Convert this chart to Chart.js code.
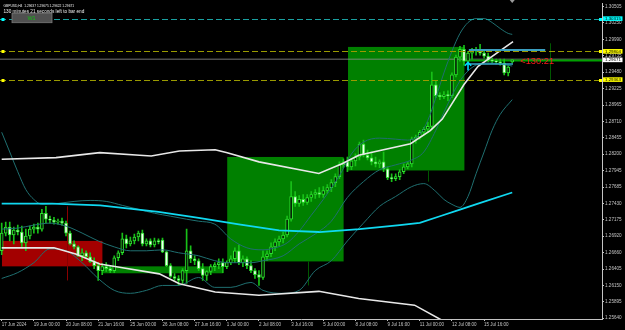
<!DOCTYPE html>
<html><head><meta charset="utf-8">
<script src="https://cdn.jsdelivr.net/npm/chart.js@4.4.1/dist/chart.umd.min.js"></script>
<style>html,body{margin:0;padding:0;background:#000;}#wrap{width:625px;height:330px;}</style>
</head><body><div id="wrap"><canvas id="c" width="625" height="330"></canvas></div>
<script>
// ---------- DATA ----------
const symbolText = 'GBPUSD,H4  1.29637 1.29675 1.29622 1.29671';
const timerText = '130 minutes 21 seconds left to bar end';
const tickBars = [0,8,16,24,32,40,48,56,64,72,80,88,96,104,112,120];
const tickLabels = ['17 Jun 2024','19 Jun 00:00','20 Jun 08:00','21 Jun 16:00','25 Jun 00:00','26 Jun 08:00','27 Jun 16:00','1 Jul 00:00','2 Jul 08:00','3 Jul 16:00','5 Jul 00:00','8 Jul 08:00','9 Jul 16:00','11 Jul 00:00','12 Jul 08:00','15 Jul 16:00'];
const priceTicks = [1.30505,1.30250,1.29990,1.29735,1.29480,1.29225,1.28965,1.28710,1.28455,1.28200,1.27945,1.27685,1.27430,1.27175,1.26920,1.26660,1.26405,1.26150,1.25895,1.25640];

const candleOpen = [
1.26690,1.26967,1.27059,1.26936,1.27013,1.26983,1.26813,1.26921,1.27029,1.27059,
1.27029,1.27276,1.27184,1.27168,1.27137,1.27152,1.27121,1.26967,1.26798,1.26751,
1.26613,1.26659,1.26597,1.26520,1.26458,1.26381,1.26443,1.26412,1.26381,1.26582,
1.26659,1.26875,1.26798,1.26844,1.26906,1.26967,1.26798,1.26844,1.26782,1.26844,
1.26859,1.26674,1.26458,1.26289,1.26258,1.26227,1.26381,1.26690,1.26566,1.26535,
1.26412,1.26304,1.26366,1.26443,1.26474,1.26504,1.26443,1.26504,1.26566,1.26690,
1.26504,1.26566,1.26458,1.26381,1.26319,1.26273,1.26597,1.26644,1.26751,1.26829,
1.26875,1.26936,1.27184,1.27538,1.27430,1.27492,1.27445,1.27522,1.27569,1.27600,
1.27569,1.27631,1.27677,1.27754,1.27847,1.28032,1.28078,1.28001,1.28094,1.28155,
1.28356,1.28186,1.28140,1.28078,1.28047,1.28078,1.27970,1.27831,1.27816,1.27847,
1.27924,1.28001,1.28047,1.28433,1.28464,1.28541,1.28587,1.28633,1.29282,1.29112,
1.29097,1.29127,1.29112,1.29436,1.29714,1.29837,1.29652,1.29776,1.29806,1.29837,
1.29776,1.29729,1.29668,1.29652,1.29637,1.29621,1.29467,1.29637];
const candleHigh = [
1.27121,1.27137,1.27137,1.27059,1.27090,1.27075,1.27029,1.27075,1.27106,1.27121,
1.27338,1.27384,1.27230,1.27214,1.27184,1.27199,1.27152,1.26998,1.26844,1.26767,
1.26721,1.26690,1.26659,1.26582,1.26504,1.26489,1.26504,1.26458,1.26613,1.26690,
1.26967,1.26936,1.26906,1.26952,1.26998,1.27013,1.26875,1.26875,1.26890,1.26875,
1.26890,1.26690,1.26489,1.26335,1.26304,1.26412,1.27029,1.26767,1.26613,1.26566,
1.26489,1.26381,1.26474,1.26504,1.26566,1.26566,1.26535,1.26613,1.26736,1.26782,
1.26613,1.26597,1.26535,1.26412,1.26381,1.26690,1.26690,1.26813,1.26875,1.26921,
1.26983,1.27230,1.27770,1.27615,1.27553,1.27569,1.27569,1.27615,1.27646,1.27677,
1.27692,1.27723,1.27800,1.27893,1.28078,1.28125,1.28155,1.28125,1.28202,1.28387,
1.28418,1.28264,1.28233,1.28155,1.28109,1.28233,1.28001,1.27893,1.27893,1.27955,
1.28047,1.28078,1.28464,1.28495,1.28572,1.28618,1.28695,1.29482,1.29343,1.29158,
1.29174,1.29189,1.29467,1.29745,1.29884,1.29899,1.29806,1.29853,1.29868,1.29914,
1.29822,1.29776,1.29698,1.29683,1.29683,1.29683,1.29590,1.29675];
const candleLow = [
1.26628,1.26921,1.26844,1.26798,1.26936,1.26736,1.26690,1.26875,1.26967,1.26967,
1.26998,1.27121,1.27121,1.27106,1.27106,1.27090,1.26921,1.26782,1.26721,1.26597,
1.26535,1.26566,1.26504,1.26412,1.26227,1.26319,1.26366,1.26350,1.26350,1.26535,
1.26628,1.26736,1.26767,1.26798,1.26844,1.26767,1.26767,1.26751,1.26751,1.26798,
1.26659,1.26443,1.26273,1.26227,1.26150,1.26181,1.26181,1.26504,1.26474,1.26381,
1.26227,1.26227,1.26319,1.26381,1.26412,1.26350,1.26412,1.26474,1.26504,1.26474,
1.26443,1.26412,1.26350,1.26258,1.26150,1.26242,1.26535,1.26597,1.26690,1.26767,
1.26813,1.26906,1.27152,1.27384,1.27384,1.27399,1.27415,1.27461,1.27507,1.27522,
1.27522,1.27584,1.27615,1.27693,1.27816,1.27986,1.27924,1.27955,1.28016,1.28109,
1.28155,1.28109,1.28032,1.28001,1.27986,1.27924,1.27800,1.27770,1.27785,1.27800,
1.27893,1.27970,1.28001,1.28371,1.28433,1.28495,1.28541,1.28587,1.29081,1.29050,
1.29066,1.29035,1.29081,1.29405,1.29652,1.29590,1.29621,1.29683,1.29745,1.29745,
1.29698,1.29637,1.29621,1.29606,1.29590,1.29436,1.29421,1.29622];
const candleClose = [
1.26967,1.27060,1.26936,1.27013,1.26983,1.26813,1.26921,1.27029,1.27059,1.27029,
1.27276,1.27184,1.27168,1.27137,1.27152,1.27121,1.26967,1.26798,1.26751,1.26613,
1.26659,1.26597,1.26520,1.26458,1.26381,1.26443,1.26412,1.26381,1.26582,1.26659,
1.26875,1.26798,1.26844,1.26906,1.26967,1.26798,1.26844,1.26782,1.26844,1.26829,
1.26674,1.26458,1.26289,1.26258,1.26227,1.26381,1.26690,1.26566,1.26535,1.26412,
1.26304,1.26366,1.26443,1.26474,1.26504,1.26443,1.26504,1.26566,1.26690,1.26504,
1.26566,1.26458,1.26381,1.26319,1.26273,1.26597,1.26644,1.26751,1.26829,1.26875,
1.26936,1.27184,1.27538,1.27430,1.27492,1.27445,1.27522,1.27569,1.27600,1.27569,
1.27631,1.27677,1.27754,1.27847,1.28032,1.28078,1.28001,1.28094,1.28155,1.28356,
1.28186,1.28140,1.28078,1.28047,1.28078,1.27970,1.27831,1.27816,1.27847,1.27924,
1.28001,1.28047,1.28433,1.28464,1.28541,1.28587,1.28633,1.29282,1.29112,1.29097,
1.29127,1.29112,1.29436,1.29714,1.29837,1.29652,1.29776,1.29806,1.29837,1.29776,
1.29729,1.29668,1.29652,1.29637,1.29621,1.29467,1.29560,1.29671];

// Bollinger bands (bar index, price)
const bbUpperBar = [0,2,4,6,8,10,14,18,22,26,30,34,38,42,46,49,53,57,61,65,68,71,74,77,80,84,87,90,94,98,101,104,106,108,110,112,114,116,118,120,122,124,126,127];
const bbUpperVal = [1.28541,1.28233,1.27924,1.27646,1.27492,1.27415,1.27430,1.27461,1.27476,1.27461,1.27399,1.27338,1.27276,1.27230,1.27183,1.27152,1.27106,1.26875,1.26736,1.26705,1.26736,1.26813,1.26998,1.27245,1.27492,1.27862,1.28202,1.28387,1.28449,1.28433,1.28418,1.28510,1.28726,1.29081,1.29467,1.29806,1.30084,1.30254,1.30316,1.30316,1.30254,1.30161,1.30084,1.30069];
const bbMidBar = [0,4,8,12,16,20,24,28,32,36,40,44,49,53,57,62,65,70,74,78,82,86,90,94,98,102,105,108,110,112,114,116,118,120,122,124,127];
const bbMidVal = [1.27029,1.27044,1.27091,1.27122,1.27075,1.26967,1.26844,1.26751,1.26690,1.26690,1.26705,1.26659,1.26612,1.26535,1.26504,1.26504,1.26535,1.26612,1.26798,1.26952,1.27152,1.27523,1.27770,1.27955,1.28032,1.28109,1.28233,1.28572,1.28850,1.29112,1.29343,1.29498,1.29590,1.29621,1.29621,1.29606,1.29575];
const bbLowerBar = [0,4,8,12,16,20,24,28,32,36,40,44,49,53,57,62,65,70,74,78,82,86,90,94,98,102,105,108,110,112,114,116,118,120,122,124,127];
const bbLowerVal = [1.26258,1.26350,1.26504,1.26720,1.26690,1.26504,1.26258,1.26072,1.26026,1.26072,1.26149,1.26149,1.26273,1.26119,1.26119,1.26196,1.26072,1.26026,1.26072,1.26381,1.26535,1.26844,1.27122,1.27384,1.27538,1.27692,1.27739,1.27615,1.27492,1.27415,1.27368,1.27538,1.27893,1.28233,1.28572,1.28819,1.29050];

// Moving averages (bar index, price)
const cyanMaBar = [0,12.5,24.5,39,49,59,69,79,89,99,104,109,114,118.5,127];
const cyanMaVal = [1.27426,1.27426,1.27399,1.27296,1.27203,1.27101,1.27009,1.26983,1.27029,1.27091,1.27126,1.27229,1.27333,1.27426,1.27600];
const whiteUpBar = [0,13.5,24.4,34.3,37.2,44.2,53.1,56.1,64,78.9,84.8,88.8,101.7,106.6,109.6,115,118.5,127.2];
const whiteUpVal = [1.28120,1.28145,1.28222,1.28182,1.28171,1.28248,1.28268,1.28222,1.28078,1.27898,1.28052,1.28182,1.28361,1.28567,1.28746,1.29286,1.29570,1.29956];
const whiteLoBar = [0,13,18.4,24.4,29.3,39.2,44.2,53.1,64,78.9,88.8,102.7,112];
const whiteLoVal = [1.26736,1.26736,1.26639,1.26484,1.26432,1.26330,1.26176,1.26046,1.25995,1.26057,1.25944,1.25841,1.25520];

// Rectangles (bar range, price range)
const boxStart = [0.07,25.05,56.1,86.15];
const boxEnd = [25.05,55.1,85.05,115.1];
const boxTop = [1.26844,1.26447,1.28155,1.29873];
const boxBottom = [1.26447,1.26339,1.26524,1.27944];

// Vertical markers
const vBar = [16.2,76.1,106.1,136.4];
const vTop = [1.27384,1.26524,1.27944,1.29930];
const vBottom = [1.26227,1.26149,1.27770,1.29359];

// Horizontal levels
const levelCyan = 1.30315;
const levelYellow = [1.29804,1.29363];
const bidPrice = 1.29671;
const greenLevel = 1.29660;
const greenLevelStart = 115.1;
const segStartBar = [116.2,116.2];
const segEndBar = [135.2,127.2];
const segPrice = [1.29826,1.29606];
const arrowBar = 116.0, arrowPrice = 1.29630;
const timerLabel = '<130:21';
const timerBar = 129.0, timerPrice = 1.29640;
const shiftBar = 127;

// ---------- STYLE ----------
const TEAL = '#1f6f70', WICK = '#18c018', LIME = '#2ee02e';
const boxColors = ['#a30000','#008000','#008000','#008000'];
const vColors = ['#8a0000','#005800','#005800','#005800'];
const AXIS = '#c4c4c4';

const idx = candleOpen.map((_, i) => i);
const pts = (bx, by) => bx.map((v, k) => ({x: v, y: by[k]}));

function fitText(ctx, text, x, yb, width, family, color, weight) {
  ctx.font = (weight || '') + ' 20px ' + family;
  const w = ctx.measureText(text).width;
  ctx.font = (weight || '') + ' ' + (20 * width / w).toFixed(2) + 'px ' + family;
  ctx.fillStyle = color; ctx.textAlign = 'left'; ctx.textBaseline = 'alphabetic';
  ctx.fillText(text, x, yb);
}

const overlay = {
  id: 'overlay',
  beforeDatasetsDraw(chart) {
    const {ctx, chartArea: a, scales: {x, y}} = chart;
    ctx.save();
    ctx.beginPath(); ctx.rect(a.left, a.top, a.right - a.left, a.bottom - a.top); ctx.clip();
    boxStart.forEach((s, k) => {
      const x0 = x.getPixelForValue(s), x1 = x.getPixelForValue(boxEnd[k]);
      const y0 = y.getPixelForValue(boxTop[k]), y1 = y.getPixelForValue(boxBottom[k]);
      ctx.fillStyle = boxColors[k];
      ctx.fillRect(x0, y0, x1 - x0, y1 - y0);
    });
    vBar.forEach((b, k) => {
      const px = Math.round(x.getPixelForValue(b)) + 0.5;
      ctx.strokeStyle = vColors[k]; ctx.lineWidth = 1;
      ctx.beginPath(); ctx.moveTo(px, y.getPixelForValue(vTop[k])); ctx.lineTo(px, y.getPixelForValue(vBottom[k])); ctx.stroke();
    });
    // bid line
    const by = y.getPixelForValue(bidPrice);
    ctx.strokeStyle = 'rgba(140,140,140,0.55)'; ctx.lineWidth = 1.5;
    ctx.beginPath(); ctx.moveTo(a.left, by - 0.5); ctx.lineTo(a.right, by - 0.5); ctx.stroke();
    const gy = y.getPixelForValue(greenLevel);
    ctx.strokeStyle = '#00a000'; ctx.lineWidth = 2;
    ctx.beginPath(); ctx.moveTo(x.getPixelForValue(greenLevelStart), gy); ctx.lineTo(a.right, gy); ctx.stroke();
    ctx.restore();
  },
  afterDatasetsDraw(chart) {
    const {ctx, chartArea: a, scales: {x, y}} = chart;
    ctx.save();
    ctx.beginPath(); ctx.rect(a.left, a.top, a.right - a.left, a.bottom - a.top); ctx.clip();
    ctx.lineWidth = 1; ctx.setLineDash([6, 3]);
    const cy = Math.round(y.getPixelForValue(levelCyan)) + 0.5;
    ctx.strokeStyle = '#1aa0a0';
    ctx.beginPath(); ctx.moveTo(a.left, cy); ctx.lineTo(a.right, cy); ctx.stroke();
    ctx.strokeStyle = '#9a9a00';
    levelYellow.forEach(v => {
      const py = Math.round(y.getPixelForValue(v)) + 0.5;
      ctx.beginPath(); ctx.moveTo(a.left, py); ctx.lineTo(a.right, py); ctx.stroke();
    });
    ctx.setLineDash([]);
    ctx.fillStyle = '#00ffff'; ctx.fillRect(1.5, cy - 1.5, 3, 3); ctx.fillRect(a.right - 3, cy - 1.5, 3, 3);
    ctx.fillStyle = '#ffff00';
    levelYellow.forEach(v => { const py = Math.round(y.getPixelForValue(v)) + 0.5; ctx.fillRect(1.5, py - 1.5, 3, 3); ctx.fillRect(a.right - 3, py - 1.5, 3, 3); });
    segStartBar.forEach((s, k) => {
      const py = y.getPixelForValue(segPrice[k]);
      ctx.strokeStyle = k === 0 ? '#3a9ec0' : '#35a8c8'; ctx.lineWidth = k === 0 ? 2 : 1.5;
      ctx.beginPath(); ctx.moveTo(x.getPixelForValue(s), py); ctx.lineTo(x.getPixelForValue(segEndBar[k]), py); ctx.stroke();
    });
    const ax = x.getPixelForValue(arrowBar), ay = y.getPixelForValue(arrowPrice);
    ctx.strokeStyle = '#00d8ff'; ctx.lineWidth = 1.6;
    ctx.beginPath(); ctx.moveTo(ax, ay); ctx.lineTo(ax, ay + 8);
    ctx.moveTo(ax - 3.2, ay + 3.2); ctx.lineTo(ax, ay); ctx.lineTo(ax + 3.2, ay + 3.2); ctx.stroke();
    ctx.fillStyle = '#ff1a1a'; ctx.font = '9.3px "Liberation Sans"'; ctx.textBaseline = 'middle'; ctx.textAlign = 'left';
    ctx.fillText(timerLabel, x.getPixelForValue(timerBar), y.getPixelForValue(timerPrice));
    ctx.restore();
  },
  afterDraw(chart) {
    const {ctx, chartArea: a, scales: {x, y}} = chart;
    ctx.save();
    fitText(ctx, symbolText, 3.5, 6.8, 71, '"Liberation Sans"', '#f0f0f0');
    fitText(ctx, timerText, 3.5, 12.8, 81, '"Liberation Sans"', '#f0f0f0');
    ctx.fillStyle = '#505050'; ctx.fillRect(12, 13.3, 40, 9.4);
    ctx.strokeStyle = '#7a7a7a'; ctx.lineWidth = 0.8; ctx.strokeRect(12, 13.3, 40, 9.4);
    ctx.fillStyle = '#10c010'; ctx.font = '5.5px "Liberation Sans"'; ctx.textAlign = 'center'; ctx.textBaseline = 'middle';
    ctx.fillText('W1', 31.5, 18.2);
    const sx = x.getPixelForValue(shiftBar);
    ctx.fillStyle = '#9a9a9a';
    ctx.beginPath(); ctx.moveTo(sx - 2.5, 0); ctx.lineTo(sx + 2.5, 0); ctx.lineTo(sx, 3); ctx.closePath(); ctx.fill();
    const tags = [[levelCyan, '#00ffff'], [levelYellow[0], '#ffff00'], [bidPrice, '#ffffff'], [levelYellow[1], '#ffff00']];
    tags.forEach(([v, c]) => {
      const py = y.getPixelForValue(v);
      ctx.fillStyle = c; ctx.fillRect(a.right + 1, py - 2.3, 19.5, 4.6);
      ctx.fillStyle = '#000'; ctx.font = '4.4px "Liberation Sans"'; ctx.textAlign = 'left'; ctx.textBaseline = 'middle';
      ctx.fillText(v.toFixed(5), a.right + 3, py + 0.2);
    });
    ctx.restore();
  }
};

const chart = new Chart(document.getElementById('c'), {
  type: 'bar',
  data: {
    datasets: [
      {type: 'line', data: pts(whiteUpBar, whiteUpVal), borderColor: '#e8e8e8', borderWidth: 1.6, pointRadius: 0, tension: 0, order: 1},
      {type: 'line', data: pts(whiteLoBar, whiteLoVal), borderColor: '#e8e8e8', borderWidth: 1.6, pointRadius: 0, tension: 0, order: 1},
      {type: 'line', data: pts(cyanMaBar, cyanMaVal), borderColor: '#10d8f0', borderWidth: 1.8, pointRadius: 0, tension: 0, order: 1},
      {type: 'line', data: pts(bbUpperBar, bbUpperVal), borderColor: TEAL, borderWidth: 1, pointRadius: 0, cubicInterpolationMode: 'monotone', order: 2},
      {type: 'line', data: pts(bbMidBar, bbMidVal), borderColor: TEAL, borderWidth: 1, pointRadius: 0, cubicInterpolationMode: 'monotone', order: 2},
      {type: 'line', data: pts(bbLowerBar, bbLowerVal), borderColor: TEAL, borderWidth: 1, pointRadius: 0, cubicInterpolationMode: 'monotone', order: 2},
      {type: 'bar', data: idx.map(i => ({x: i, y: [candleLow[i], candleHigh[i]]})), backgroundColor: WICK, grouped: false, barPercentage: 1, categoryPercentage: 1, maxBarThickness: 1, order: 5},
      {type: 'bar', data: idx.map(i => ({x: i, y: [Math.min(candleOpen[i], candleClose[i]), Math.max(candleOpen[i], candleClose[i])]})),
        backgroundColor: c => candleClose[c.dataIndex] >= candleOpen[c.dataIndex] ? '#062006' : '#f2fff2',
        borderColor: LIME, borderWidth: 1, borderSkipped: false, grouped: false, barPercentage: 1, categoryPercentage: 1, maxBarThickness: 3, minBarLength: 1.2, order: 4}
    ]
  },
  options: {
    responsive: false, animation: false, events: [],
    layout: {padding: 0},
    plugins: {legend: {display: false}, tooltip: {enabled: false}},
    scales: {
      x: {type: 'linear', min: -0.423, max: 149.33, offset: false,
        afterBuildTicks: s => { s.ticks = tickBars.map(v => ({value: v})); },
        afterFit: s => { s.height = 11; },
        ticks: {autoSkip: false, maxRotation: 0, align: 'start', padding: 1, color: AXIS, font: {family: '"Liberation Sans"', size: 4.5},
          callback: v => { const k = tickBars.indexOf(v); return k >= 0 ? tickLabels[k] : ''; }},
        grid: {display: true, offset: false, drawOnChartArea: false, drawTicks: true, tickLength: 2, color: AXIS},
        border: {display: true, color: AXIS, width: 1}},
      y: {type: 'linear', position: 'right', min: 1.25625, max: 1.30547,
        afterBuildTicks: s => { s.ticks = priceTicks.map(v => ({value: v})); },
        afterFit: s => { s.width = 23; },
        ticks: {autoSkip: false, padding: 1, color: AXIS, font: {family: '"Liberation Sans"', size: 4.6},
          callback: v => v.toFixed(5)},
        grid: {display: true, drawOnChartArea: false, drawTicks: true, tickLength: 2, color: AXIS},
        border: {display: true, color: AXIS, width: 1}}
    }
  },
  plugins: [overlay]
});
</script></body></html>
